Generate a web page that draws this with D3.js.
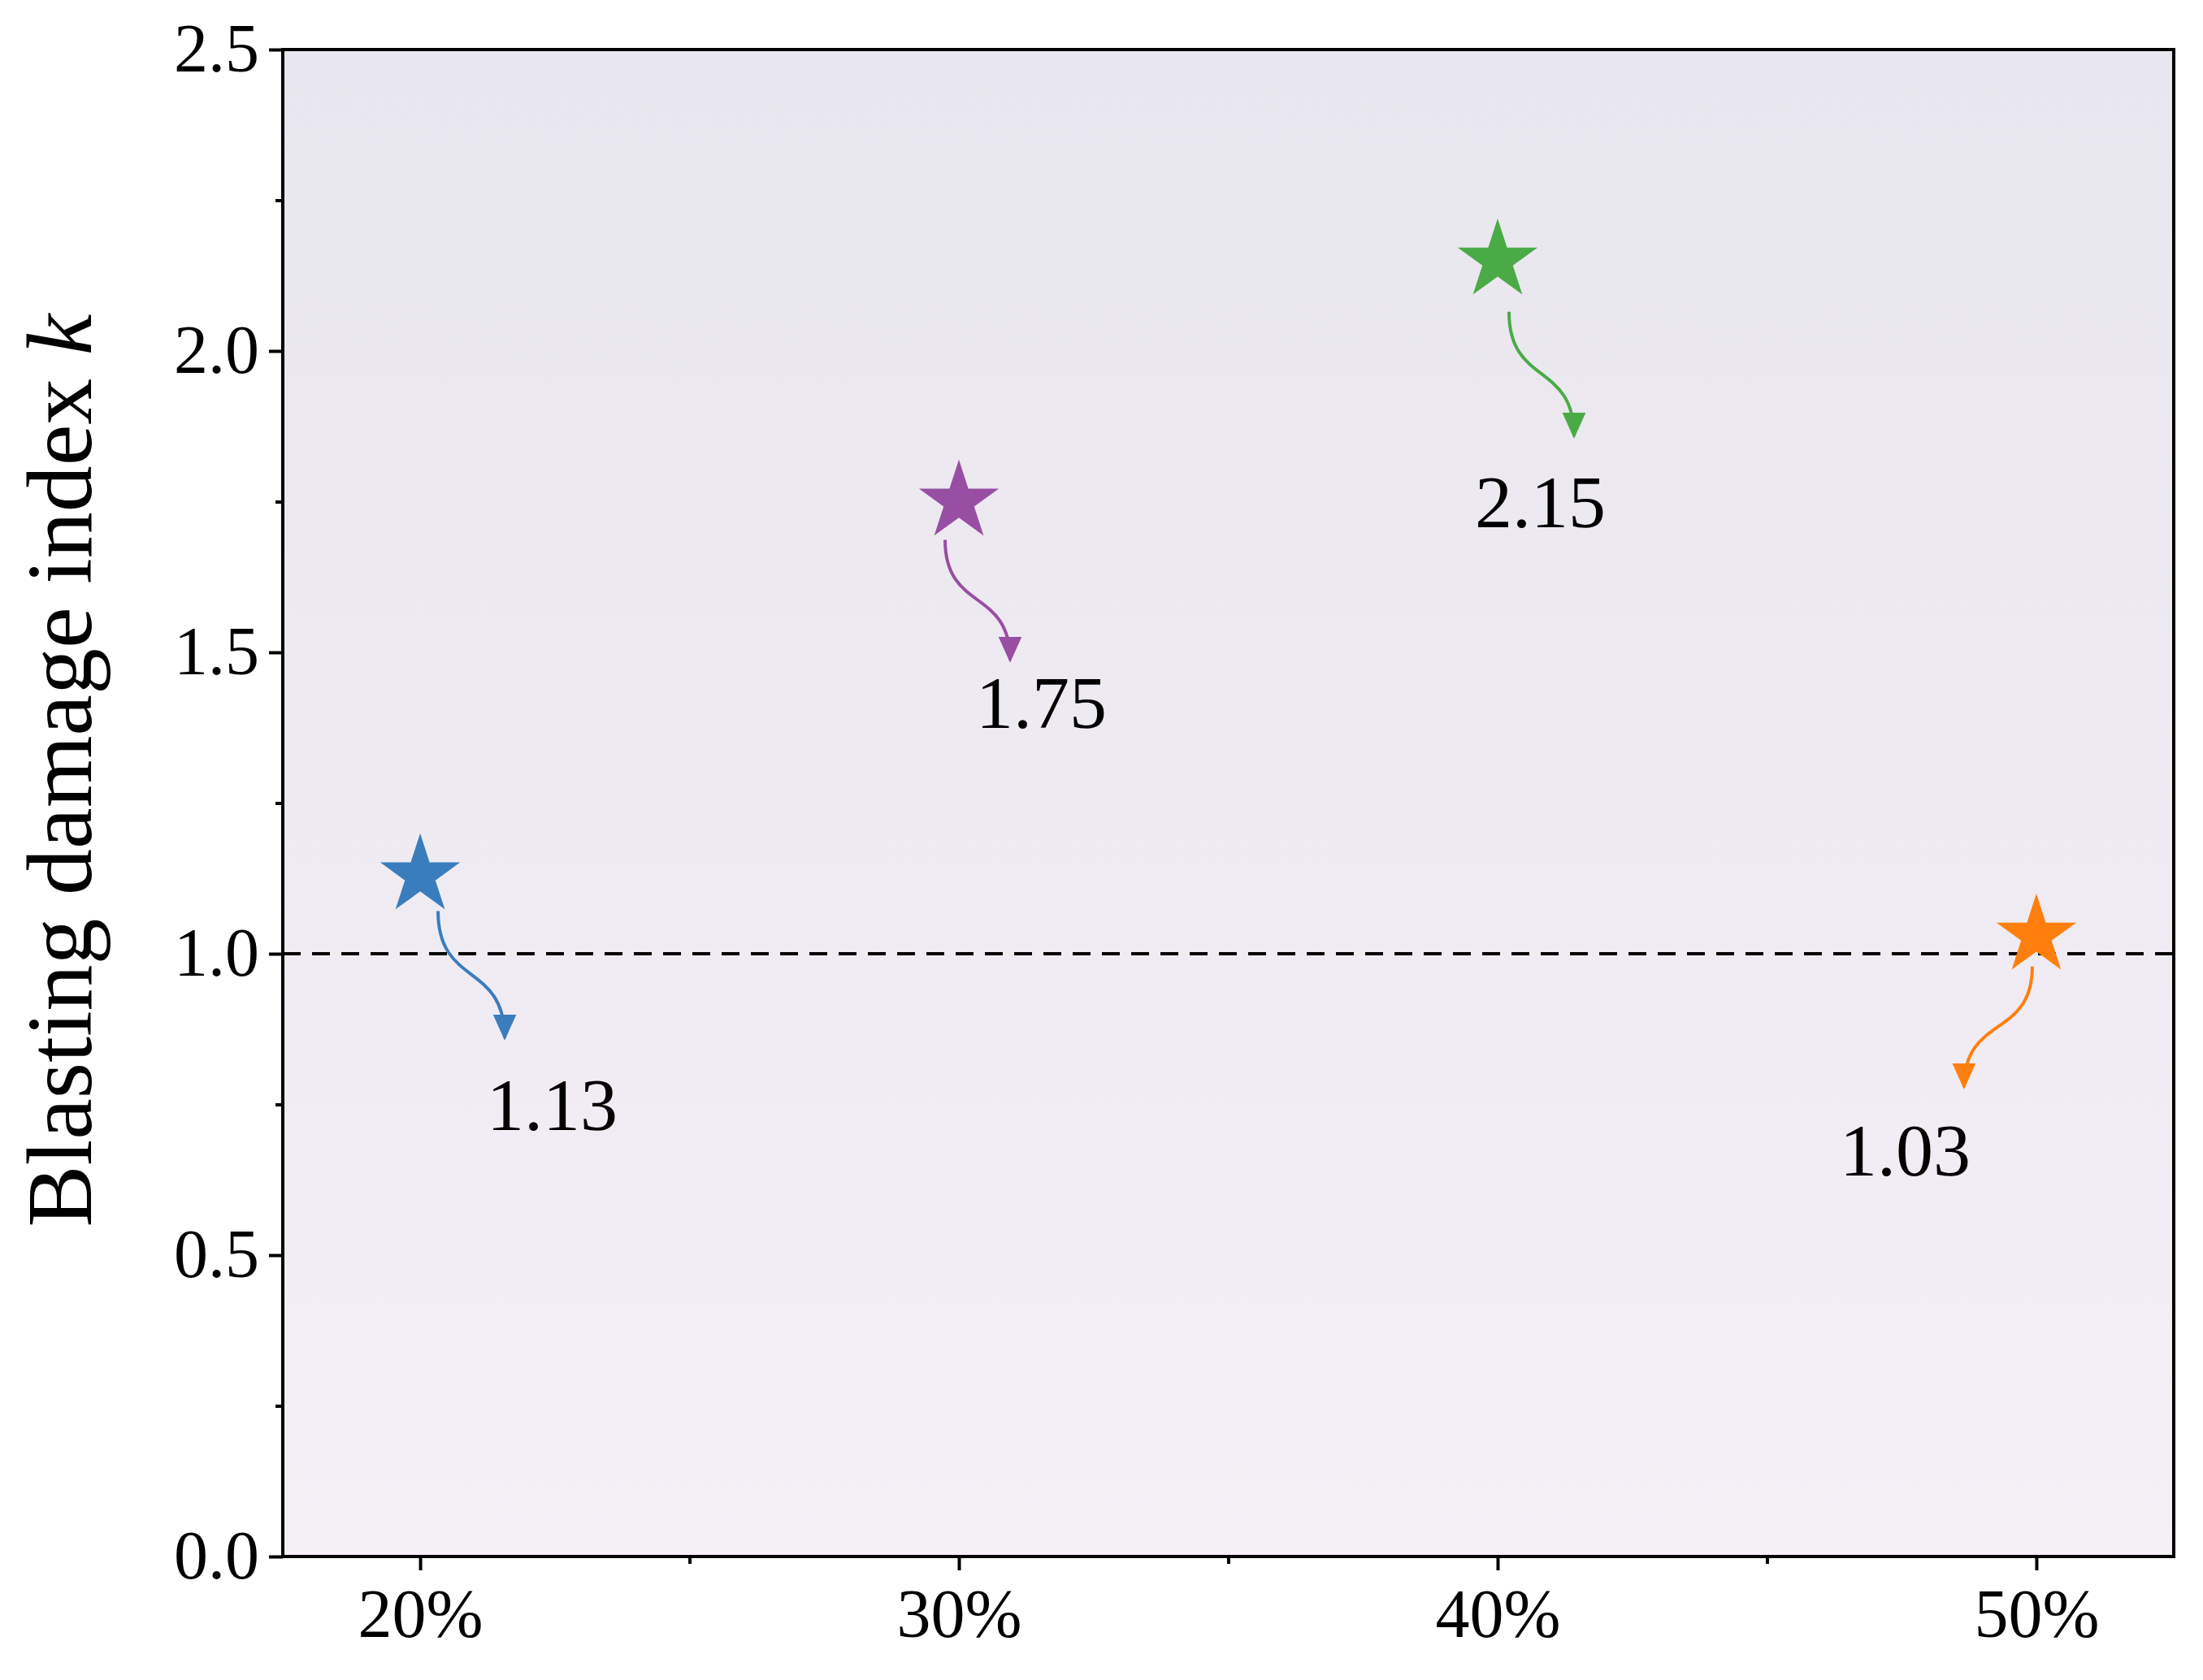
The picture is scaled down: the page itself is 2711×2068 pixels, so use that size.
<!DOCTYPE html>
<html><head><meta charset="utf-8">
<script src="https://cdn.jsdelivr.net/npm/d3@7"></script>
<style>body{margin:0;background:#fff}</style>
</head><body>
<svg id="chart" width="2711" height="2068"></svg>
<script>
const categories = [20, 30, 40, 50];
const values = [1.13, 1.75, 2.15, 1.03];
const colors = ['#3a7dbd', '#984ea3', '#4aab46', '#ff7f0e'];
const labels = ['1.13', '1.75', '2.15', '1.03'];
const yTicks = [0, 0.5, 1.0, 1.5, 2.0, 2.5];

// arrow start/end and label offsets from star, in px
const arrows = [
  { s: [22, 44], e: [104, 200], t: [82, 313] },
  { s: [-17, 47], e: [63, 195], t: [21, 278] },
  { s: [14, 63], e: [94, 216], t: [-28, 328] },
  { s: [-5, 38], e: [-89, 186], t: [-242, 295] }
];

const margin = { top: 61, right: 36, bottom: 152, left: 348 };
const W = 2711, H = 2068;
const w = W - margin.left - margin.right, h = H - margin.top - margin.bottom;
const font = '"Liberation Serif", "Times New Roman", serif';

const svg = d3.select('#chart');
const defs = svg.append('defs');
const grad = defs.append('linearGradient').attr('id', 'bg').attr('x1', 0).attr('y1', 0).attr('x2', 0).attr('y2', 1);
grad.append('stop').attr('offset', '0%').attr('stop-color', '#e8e6ee');
grad.append('stop').attr('offset', '100%').attr('stop-color', '#f5eff6');

colors.forEach((c, i) => {
  defs.append('marker').attr('id', 'ah' + i)
    .attr('viewBox', '0 0 10 10').attr('refX', 9).attr('refY', 5)
    .attr('markerWidth', 8).attr('markerHeight', 8).attr('orient', 'auto')
    .attr('markerUnits', 'strokeWidth')
    .append('path').attr('d', 'M0,0.5 L10,5 L0,9.5 Z').attr('fill', c);
});

const g = svg.append('g').attr('transform', `translate(${margin.left},${margin.top})`);
const x = d3.scaleLinear().domain([17.45, 52.55]).range([0, w]);
const y = d3.scaleLinear().domain([0, 2.5]).range([h, 0]);

g.append('rect').attr('width', w).attr('height', h).attr('fill', 'url(#bg)');

// dashed reference line
g.append('line').attr('x1', 0).attr('x2', w).attr('y1', y(1)).attr('y2', y(1))
  .attr('stroke', '#000').attr('stroke-width', 4).attr('stroke-dasharray', '22,14');

// axes
const yAxis = g.append('g').call(d3.axisLeft(y).tickValues(yTicks).tickFormat(d3.format('.1f')).tickSize(17).tickPadding(12));
const yMinor = g.append('g').call(d3.axisLeft(y).tickValues(d3.range(0.25, 2.5, 0.5)).tickFormat('').tickSize(9));
const xAxis = g.append('g').attr('transform', `translate(0,${h})`)
  .call(d3.axisBottom(x).tickValues(categories).tickFormat(d => d + '%').tickSize(17).tickPadding(22));
const xMinor = g.append('g').attr('transform', `translate(0,${h})`)
  .call(d3.axisBottom(x).tickValues([25, 35, 45]).tickFormat('').tickSize(9));
[yAxis, yMinor, xAxis, xMinor].forEach(a => {
  a.select('.domain').remove();
  a.selectAll('line').attr('stroke', '#000').attr('stroke-width', 4);
  a.selectAll('text').attr('font-family', font).attr('font-size', 84).attr('fill', '#000');
});
g.append('rect').attr('width', w).attr('height', h).attr('fill', 'none')
  .attr('stroke', '#000').attr('stroke-width', 4);

// y label
const yl = svg.append('text').attr('transform', `translate(112,${margin.top + h / 2 - 40}) rotate(-90)`)
  .attr('text-anchor', 'middle').attr('font-family', font).attr('font-size', 114).attr('fill', '#000');
yl.append('tspan').text('Blasting damage index ');
yl.append('tspan').attr('font-style', 'italic').text('k');

// stars, arrows, labels
const star = d3.symbol().type(d3.symbolStar).size(3000);
categories.forEach((c, i) => {
  const px = x(c), py = y(values[i]);
  const a = arrows[i];
  const sx = px + a.s[0], sy = py + a.s[1], ex = px + a.e[0], ey = py + a.e[1];
  const dy = ey - sy;
  const path = d3.path();
  path.moveTo(sx, sy);
  path.bezierCurveTo(sx, sy + 0.6 * dy, ex, ey - 0.6 * dy, ex, ey);
  g.append('path').attr('d', path.toString()).attr('fill', 'none')
    .attr('stroke', colors[i]).attr('stroke-width', 4).attr('marker-end', `url(#ah${i})`);
  g.append('path').attr('d', star).attr('transform', `translate(${px},${py})`).attr('fill', colors[i]);
  g.append('text').attr('x', px + a.t[0]).attr('y', py + a.t[1])
    .attr('font-family', font).attr('font-size', 92).attr('fill', '#000').text(labels[i]);
});
</script>
</body></html>
